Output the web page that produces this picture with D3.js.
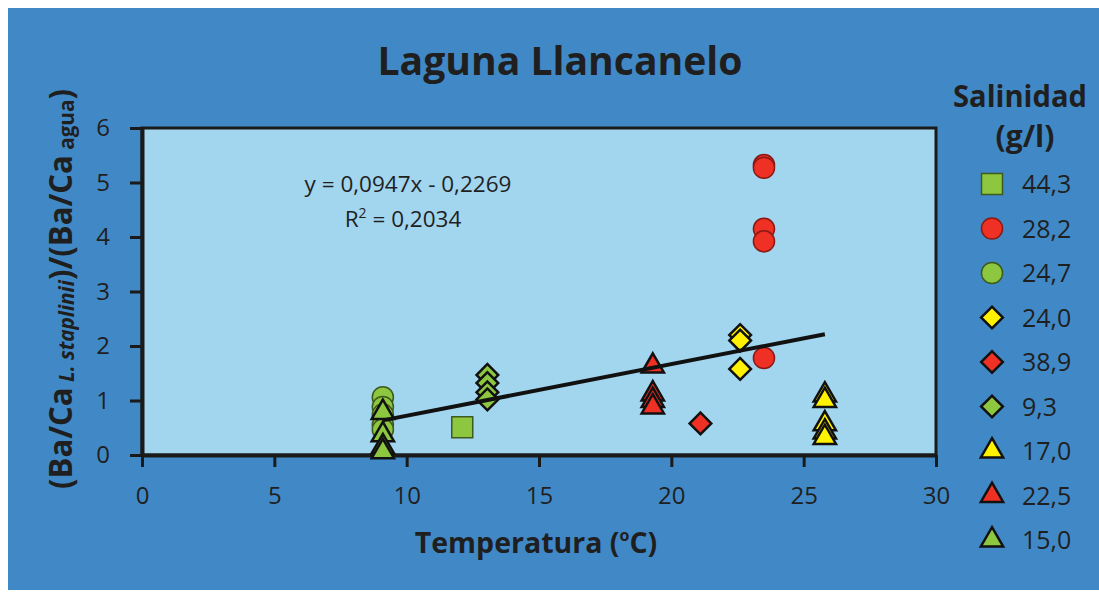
<!DOCTYPE html>
<html>
<head>
<meta charset="utf-8">
<script src="https://cdn.jsdelivr.net/npm/d3@7"></script>
<style>
  html, body { margin: 0; padding: 0; background: #ffffff; }
  svg { display: block; }
  text { font-family: "Open Sans", "Noto Sans", sans-serif; fill: #1f1f1f; }
</style>
</head>
<body>
<svg id="chart" width="1099" height="596"></svg>
<script>
// ---- data ----
const title = "Laguna Llancanelo";
const xTicks = [0, 5, 10, 15, 20, 25, 30];
const yTicks = [0, 1, 2, 3, 4, 5, 6];
const categories = ["44,3", "28,2", "24,7", "24,0", "38,9", "9,3", "17,0", "22,5", "15,0"];
const shapes = ["square", "circle", "circle", "diamond", "diamond", "diamond", "triangle", "triangle", "triangle"];
const colors = ["#8dc63f", "#ee3124", "#8dc63f", "#fff200", "#ee3124", "#8dc63f", "#fff200", "#ee3124", "#8dc63f"];

const temp44_3 = [12.1];
const ratio44_3 = [0.51];
const temp28_2 = [23.5, 23.5, 23.5, 23.5, 23.5];
const ratio28_2 = [5.32, 5.27, 4.15, 3.92, 1.78];
const temp24_7 = [9.1, 9.1, 9.1, 9.1, 9.1];
const ratio24_7 = [1.06, 0.88, 0.74, 0.55, 0.47];
const temp24_0 = [22.6, 22.6, 22.6];
const ratio24_0 = [2.2, 2.1, 1.58];
const temp38_9 = [21.1];
const ratio38_9 = [0.58];
const temp9_3 = [13.05, 13.05, 13.05, 13.05];
const ratio9_3 = [1.47, 1.32, 1.15, 1.02];
const temp17_0 = [25.8, 25.8, 25.8, 25.8, 25.8];
const ratio17_0 = [1.1, 1.0, 0.57, 0.42, 0.32];
const temp22_5 = [19.3, 19.3, 19.3, 19.3];
const ratio22_5 = [1.63, 1.12, 1.0, 0.88];
const temp15_0 = [9.1, 9.1, 9.1, 9.1];
const ratio15_0 = [0.78, 0.37, 0.15, 0.06];

const seriesTemps = [temp44_3, temp28_2, temp24_7, temp24_0, temp38_9, temp9_3, temp17_0, temp22_5, temp15_0];
const seriesRatios = [ratio44_3, ratio28_2, ratio24_7, ratio24_0, ratio38_9, ratio9_3, ratio17_0, ratio22_5, ratio15_0];

const trendSlope = 0.0947;
const trendIntercept = -0.2269;
const trendRange = [9.1, 25.8];
const equationText = "y = 0,0947x - 0,2269";
const r2Value = "0,2034";
const legendTitle = ["Salinidad", "(g/l)"];
const xLabelParts = ["Temperatura (", "o", "C)"];
const yLabelParts = ["(Ba/Ca", " L. staplinii", ")/(Ba/Ca", " agua", ")"];

// draw order (circles beneath, triangles on top)
const drawOrder = [2, 0, 5, 1, 3, 4, 7, 6, 8];

// ---- chart ----
const svg = d3.select("#chart");
svg.append("rect").attr("x", 8).attr("y", 8).attr("width", 1091).attr("height", 582).attr("fill", "#4189c6");

const x = d3.scaleLinear().domain([0, 30]).range([142, 936]);
const y = d3.scaleLinear().domain([0, 6]).range([455, 128]);

svg.append("rect")
  .attr("x", x(0)).attr("y", y(6))
  .attr("width", x(30) - x(0)).attr("height", y(0) - y(6))
  .attr("fill", "#a2d5ee").attr("stroke", "#1a1a1a").attr("stroke-width", 3);

const yAxis = svg.append("g").attr("transform", `translate(${x(0)},0)`)
  .call(d3.axisLeft(y).tickValues(yTicks).tickSize(12).tickSizeOuter(0).tickPadding(20).tickFormat(d3.format("d")));
const xAxis = svg.append("g").attr("transform", `translate(0,${y(0)})`)
  .call(d3.axisBottom(x).tickValues(xTicks).tickSize(12).tickSizeOuter(0).tickPadding(20).tickFormat(d3.format("d")));
[xAxis, yAxis].forEach(g => {
  g.select(".domain").attr("stroke", "#1a1a1a").attr("stroke-width", 4);
  g.selectAll(".tick line").attr("stroke", "#1a1a1a").attr("stroke-width", 3);
  g.selectAll(".tick text").attr("font-size", 24).attr("fill", "#1f1f1f")
    .style("font-family", '"Open Sans", sans-serif');
});

function symbolPath(shape) {
  if (shape === "circle") return d3.symbol(d3.symbolCircle, 350)();
  if (shape === "square") return d3.symbol(d3.symbolSquare, 440)();
  if (shape === "diamond") return d3.symbol(d3.symbolSquare, 235)();
  return d3.symbol(d3.symbolTriangle, 215)();
}
function strokeFor(i) {
  const s = shapes[i];
  if (s === "circle" || s === "square") return colors[i] === "#ee3124" ? "#8a1a14" : "#3e5a1c";
  return "#111111";
}
function strokeWidthFor(i) {
  const s = shapes[i];
  return (s === "circle" || s === "square") ? 1.5 : 2.5;
}
function rot(i) { return shapes[i] === "diamond" ? " rotate(45)" : ""; }

const marks = svg.append("g");
drawOrder.forEach(i => {
  const pts = seriesTemps[i].map((t, k) => [t, seriesRatios[i][k]]);
  marks.append("g").selectAll("path").data(pts).join("path")
    .attr("d", symbolPath(shapes[i]))
    .attr("transform", d => `translate(${x(d[0])},${y(d[1])})${rot(i)}`)
    .attr("fill", colors[i])
    .attr("stroke", strokeFor(i))
    .attr("stroke-width", strokeWidthFor(i))
    .attr("stroke-linejoin", "miter");
});

// trendline
const line = d3.line().x(d => x(d)).y(d => y(trendSlope * d + trendIntercept));
svg.append("path").datum(trendRange).attr("d", line)
  .attr("stroke", "#111").attr("stroke-width", 4).attr("fill", "none");

// equation
svg.append("text").attr("x", 408).attr("y", 192).attr("text-anchor", "middle")
  .attr("font-size", 22.5).text(equationText);
const r2 = svg.append("text").attr("x", 403).attr("y", 227).attr("text-anchor", "middle").attr("font-size", 22.5);
r2.append("tspan").text("R");
r2.append("tspan").attr("font-size", 14).attr("dy", -9).text("2");
r2.append("tspan").attr("dy", 9).text(" = " + r2Value);

// title
svg.append("text").attr("x", 560).attr("y", 75).attr("text-anchor", "middle")
  .attr("font-size", 39).attr("font-weight", "bold")
  .attr("textLength", 365).attr("lengthAdjust", "spacingAndGlyphs").text(title);

// x label
const xl = svg.append("text").attr("x", 536).attr("y", 553).attr("text-anchor", "middle")
  .attr("font-size", 28.5).attr("font-weight", "bold");
xl.append("tspan").text(xLabelParts[0]);
xl.append("tspan").attr("font-size", 16).attr("dy", -12).text(xLabelParts[1]);
xl.append("tspan").attr("dy", 12).text(xLabelParts[2]);

// y label
const yl = svg.append("text").attr("transform", "translate(72,289) rotate(-90)")
  .attr("text-anchor", "middle").attr("font-size", 33).attr("font-weight", "bold")
  .attr("textLength", 400).attr("lengthAdjust", "spacingAndGlyphs");
yl.append("tspan").text(yLabelParts[0]);
yl.append("tspan").attr("font-size", 22).attr("font-style", "italic").attr("dy", 2).text(yLabelParts[1]);
yl.append("tspan").attr("dy", -2).text(yLabelParts[2]);
yl.append("tspan").attr("font-size", 22).attr("dy", 2).text(yLabelParts[3]);
yl.append("tspan").attr("dy", -2).text(yLabelParts[4]);

// legend
svg.append("text").attr("x", 1020).attr("y", 107).attr("text-anchor", "middle")
  .attr("font-size", 30).attr("font-weight", "bold")
  .attr("textLength", 134).attr("lengthAdjust", "spacingAndGlyphs").text(legendTitle[0]);
svg.append("text").attr("x", 1025).attr("y", 147).attr("text-anchor", "middle")
  .attr("font-size", 30).attr("font-weight", "bold").text(legendTitle[1]);

const leg = svg.append("g");
categories.forEach((c, i) => {
  const cy = 184 + i * 44.5;
  leg.append("path").attr("d", symbolPath(shapes[i]))
    .attr("transform", `translate(992,${cy})${rot(i)}`)
    .attr("fill", colors[i]).attr("stroke", strokeFor(i)).attr("stroke-width", strokeWidthFor(i));
  leg.append("text").attr("x", 1022).attr("y", cy).attr("dy", "0.36em")
    .attr("font-size", 25).text(c);
});
</script>
</body>
</html>
